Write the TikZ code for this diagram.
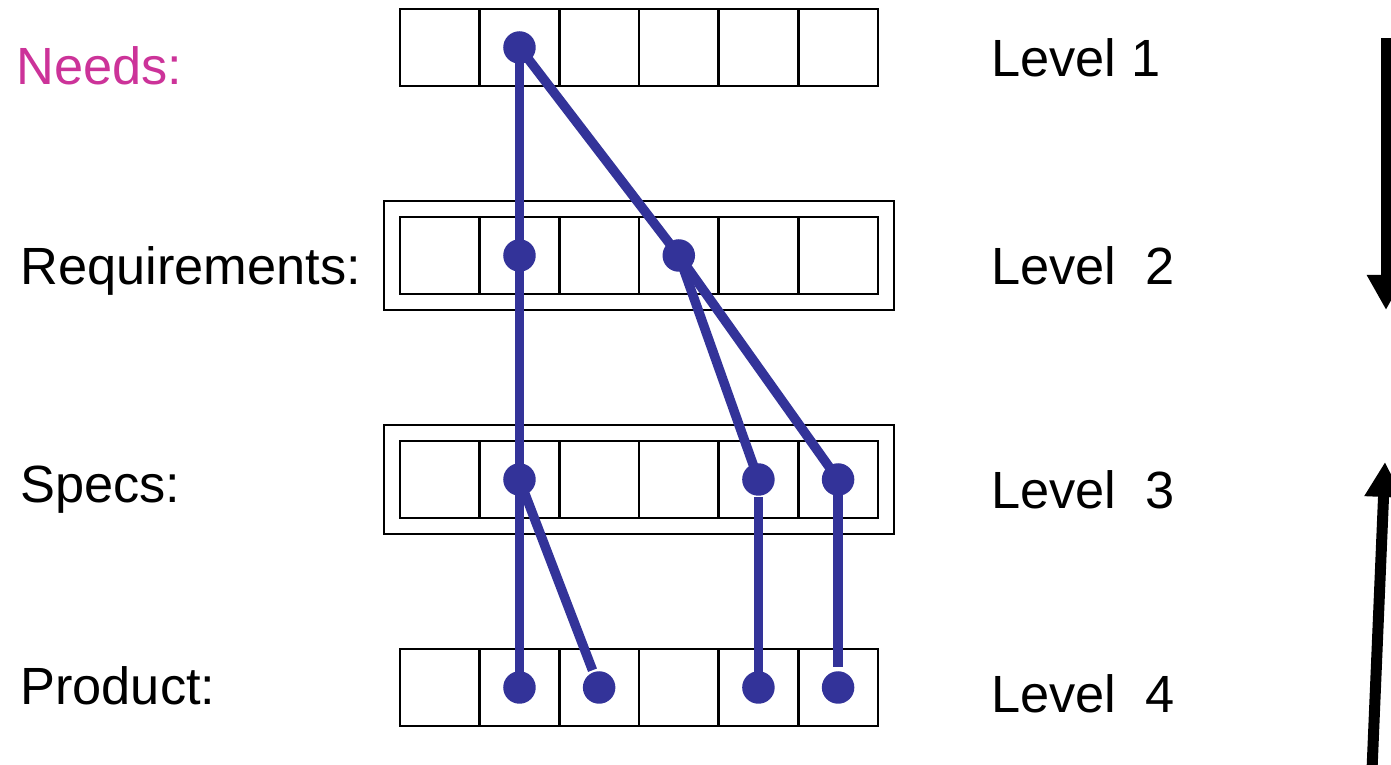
\documentclass[tikz,border=0pt]{standalone}
\usepackage{fontspec}
\setmainfont{Liberation Sans}
\usetikzlibrary{arrows.meta, fit}
\definecolor{linkblue}{HTML}{333399}
\definecolor{needpink}{HTML}{CC3399}

\begin{document}
\begin{tikzpicture}[
		cell/.style={
			draw=black, line width=1.5pt, inner sep=0pt,
			minimum width=1.593cm, minimum height=1.54cm
		},
		frame/.style={draw=black, line width=1.5pt, inner sep=0.295cm},
		link/.style={draw=linkblue, line width=0.19cm},
		dot/.style={circle, fill=linkblue, minimum size=0.65cm, inner sep=0pt},
		rowlabel/.style={anchor=base west, inner sep=0pt, font=\fontsize{29.8}{36}\selectfont},
		bigarrow/.style={-{Triangle[length=0.7cm, width=0.72cm]}, line width=0.22cm}
		]
		
		\useasboundingbox (0,0) rectangle (27.82,15.3);
		
		% One row of six cells per level
		\foreach \i in {1,...,6} {
			\node[cell] (need-\i) at ({8+1.593*(\i-0.5)},14.35) {};
			\node[cell] (req-\i)  at ({8+1.593*(\i-0.5)},10.19) {};
			\node[cell] (spec-\i) at ({8+1.593*(\i-0.5)},5.71) {};
			\node[cell] (prod-\i) at ({8+1.593*(\i-0.5)},1.55) {};
		}
		
		% Double border round the two middle rows
		\node[frame, fit=(req-1)(req-6)] (req-frame) {};
		\node[frame, fit=(spec-1)(spec-6)] (spec-frame) {};
		
		% Row names on the left
		\node[rowlabel, text=needpink] (needs) at (0.32,13.6) {Needs:};
		\node[rowlabel] (reqs)    at (0.4,9.6)  {Requirements:};
		\node[rowlabel] (specs)   at (0.4,5.24) {Specs:};
		\node[rowlabel] (product) at (0.4,1.2)  {Product:};
		
		% Level numbers on the right
		\node[rowlabel] (level-1) at (19.82,13.76) {Level 1};
		\node[rowlabel] (level-2) at (19.82,9.6)   {Level\ \ 2};
		\node[rowlabel] (level-3) at (19.82,5.12)  {Level\ \ 3};
		\node[rowlabel] (level-4) at (19.82,1.04)  {Level\ \ 4};
		
		% --- Trace links between the levels ---
		\draw[link] (need-2.center) -- (req-2.center);
		\draw[link] (need-2.center) -- (req-4.center);
		\draw[link] (req-2.center) -- (spec-2.center);
		\draw[link] (req-4.center) -- (spec-5.center);
		\draw[link] (req-4.center) -- (spec-6.center);
		\draw[link] (spec-2.center) -- (prod-2.center);
		% these three stop just short of a dot
		\draw[link, shorten >=0.37cm] (spec-2.center) -- (prod-3.center);
		\draw[link, shorten <=0.35cm] (spec-5.center) -- (prod-5.center);
		\draw[link, shorten >=0.4cm] (spec-6.center) -- (prod-6.center);
		
		% Dots go on top of the links
		\foreach \c in {need-2, req-2, req-4, spec-2, spec-5, spec-6, prod-2, prod-3, prod-5, prod-6}
		\node[dot] (dot-\c) at (\c) {};
		
		% Top-down and bottom-up arrows
		\coordinate (down-start) at (27.72,14.54);
		\coordinate (down-end)   at (27.72,9.1);
		\coordinate (up-start)   at (27.44,-0.1);
		\coordinate (up-end)     at (27.7,6.06);
		\draw[bigarrow] (down-start) -- (down-end);
		\draw[bigarrow] (up-start) -- (up-end);
		
	\end{tikzpicture}
\end{document}
